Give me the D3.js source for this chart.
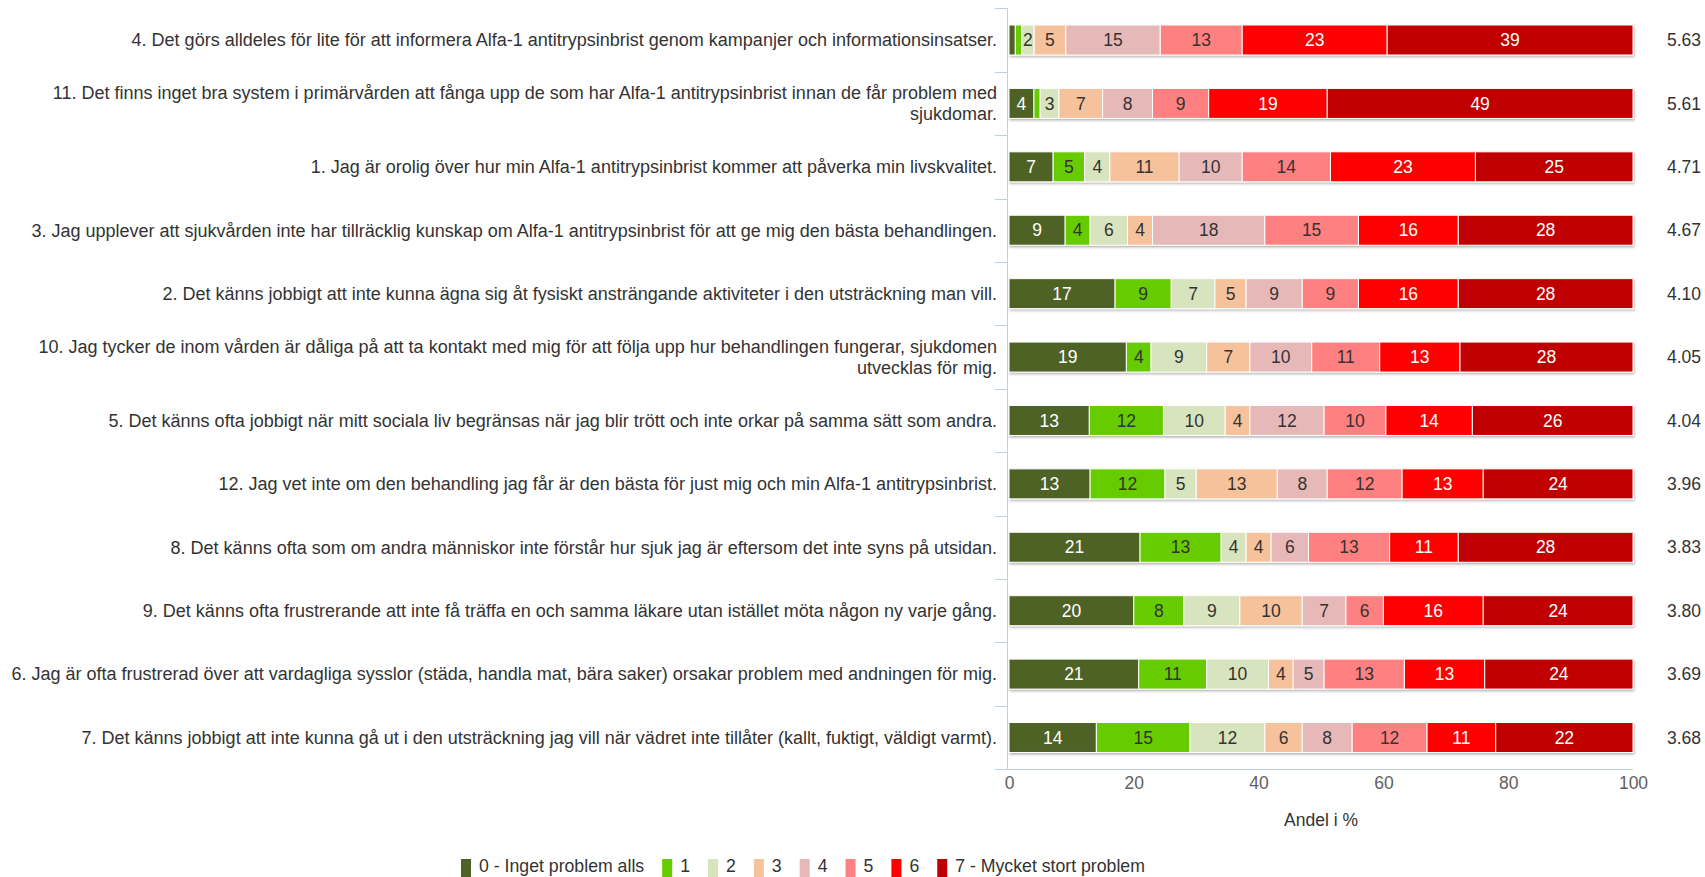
<!DOCTYPE html>
<html><head><meta charset="utf-8">
<script src="https://cdn.jsdelivr.net/npm/d3@7"></script>
<style>
body{margin:0;background:#fff;}
svg{display:block;font-family:"Liberation Sans",Arial,sans-serif;}
</style>
</head><body><svg id="c" width="1705" height="877"></svg>
<script>
const categories = [
 ["4. Det görs alldeles för lite för att informera Alfa-1 antitrypsinbrist genom kampanjer och informationsinsatser."],
 ["11. Det finns inget bra system i primärvården att fånga upp de som har Alfa-1 antitrypsinbrist innan de får problem med","sjukdomar."],
 ["1. Jag är orolig över hur min Alfa-1 antitrypsinbrist kommer att påverka min livskvalitet."],
 ["3. Jag upplever att sjukvården inte har tillräcklig kunskap om Alfa-1 antitrypsinbrist för att ge mig den bästa behandlingen."],
 ["2. Det känns jobbigt att inte kunna ägna sig åt fysiskt ansträngande aktiviteter i den utsträckning man vill."],
 ["10. Jag tycker de inom vården är dåliga på att ta kontakt med mig för att följa upp hur behandlingen fungerar, sjukdomen","utvecklas för mig."],
 ["5. Det känns ofta jobbigt när mitt sociala liv begränsas när jag blir trött och inte orkar på samma sätt som andra."],
 ["12. Jag vet inte om den behandling jag får är den bästa för just mig och min Alfa-1 antitrypsinbrist."],
 ["8. Det känns ofta som om andra människor inte förstår hur sjuk jag är eftersom det inte syns på utsidan."],
 ["9. Det känns ofta frustrerande att inte få träffa en och samma läkare utan istället möta någon ny varje gång."],
 ["6. Jag är ofta frustrerad över att vardagliga sysslor (städa, handla mat, bära saker) orsakar problem med andningen för mig."],
 ["7. Det känns jobbigt att inte kunna gå ut i den utsträckning jag vill när vädret inte tillåter (kallt, fuktigt, väldigt varmt)."]
];
const seriesNames = ["0 - Inget problem alls","1","2","3","4","5","6","7 - Mycket stort problem"];
const seriesColors = ["#4f6228","#66cc00","#d7e4bd","#f6c29b","#e6b9b8","#ff8080","#ff0000","#c00000"];
const s0 = [1,4,7,9,17,19,13,13,21,20,21,14];
const s1 = [1,1,5,4,9,4,12,12,13,8,11,15];
const s2 = [2,3,4,6,7,9,10,5,4,9,10,12];
const s3 = [5,7,11,4,5,7,4,13,4,10,4,6];
const s4 = [15,8,10,18,9,10,12,8,6,7,5,8];
const s5 = [13,9,14,15,9,11,10,12,13,6,13,12];
const s6 = [23,19,23,16,16,13,14,13,11,16,13,11];
const s7 = [39,49,25,28,28,28,26,24,28,24,24,22];
const means = ["5.63","5.61","4.71","4.67","4.10","4.05","4.04","3.96","3.83","3.80","3.69","3.68"];
const xTicks = [0,20,40,60,80,100];
const xTitle = "Andel i %";

const series = [s0,s1,s2,s3,s4,s5,s6,s7];
const lightText = [true,false,false,false,false,false,true,true];

const svg = d3.select("#c");
const defs = svg.append("defs");
const f = defs.append("filter").attr("id","sh").attr("x","-5%").attr("y","-30%").attr("width","110%").attr("height","180%");
f.append("feDropShadow").attr("dx",1).attr("dy",1.5).attr("stdDeviation",1.2).attr("flood-color","#000").attr("flood-opacity",0.3);

const x = d3.scaleLinear().domain([0,100]).range([1009,1633]);
const y = d3.scaleBand().domain(d3.range(categories.length)).range([8.3,769.2]).paddingInner(0.527).paddingOuter(0.2635);
const step = y.step();

// percent stacking
const rows = categories.map((c,i)=>{
  const vals = series.map(s=>s[i]);
  const tot = d3.sum(vals);
  let acc = 0;
  return vals.map((v,k)=>{const p0=acc/tot*100; acc+=v; return {k, v, p0, p1: acc/tot*100};});
});

const axisColor = "#c0d0e0";
// category axis
const gA = svg.append("g");
gA.append("line").attr("x1",1007.5).attr("x2",1007.5).attr("y1",y.range()[0]).attr("y2",y.range()[1]).attr("stroke",axisColor);
for (let i=0;i<=categories.length;i++){
  const yy = Math.round(y.range()[0] + i*step)+0.5;
  gA.append("line").attr("x1",995).attr("x2",1007.5).attr("y1",yy).attr("y2",yy).attr("stroke",axisColor);
}

// value axis
const xAxis = d3.axisBottom(x).tickValues(xTicks).tickSize(0).tickPadding(7);
const gx = svg.append("g").attr("transform","translate(0,769.5)").call(xAxis);
gx.select(".domain").attr("stroke",axisColor).attr("d",`M1007.5,0H1633`);
gx.selectAll("text").attr("font-size","17.5px").attr("fill","#606060").attr("font-family","Liberation Sans, Arial, sans-serif");

svg.append("text").attr("x",(x(0)+x(100))/2).attr("y",820).attr("dy","0.35em").attr("text-anchor","middle")
  .attr("font-size","17.5px").attr("fill","#333").text(xTitle);

// category labels
categories.forEach((lines,i)=>{
  const cy = y(i)+y.bandwidth()/2;
  const lh = 20.6;
  const t = svg.append("text").attr("text-anchor","end").attr("font-size","18px").attr("fill","#333");
  lines.forEach((ln,j)=>{
    t.append("tspan").attr("x",997).attr("y",cy + (j-(lines.length-1)/2)*lh).attr("dy","0.35em").text(ln);
  });
});

// bars
const gB = svg.append("g");
rows.forEach((segs,i)=>{
  const g = gB.append("g").attr("filter","url(#sh)");
  g.selectAll("rect").data(segs).join("rect")
    .attr("x",d=>x(d.p0)).attr("width",d=>Math.max(0,x(d.p1)-x(d.p0)))
    .attr("y",y(i)).attr("height",y.bandwidth())
    .attr("fill",d=>seriesColors[d.k]).attr("stroke","#fff").attr("stroke-width",1);
});
rows.forEach((segs,i)=>{
  const cy = y(i)+y.bandwidth()/2;
  segs.forEach(d=>{
    const w = x(d.p1)-x(d.p0);
    const t = svg.append("text").attr("x",(x(d.p0)+x(d.p1))/2).attr("y",cy).attr("dy","0.35em")
      .attr("text-anchor","middle").attr("font-size","17.5px")
      .attr("fill",lightText[d.k]?"#fff":"#333").text(d.v);
    if (t.node().getComputedTextLength()+1 > w) t.remove();
  });
});

// means
means.forEach((m,i)=>{
  svg.append("text").attr("x",1684).attr("y",y(i)+y.bandwidth()/2).attr("dy","0.35em")
    .attr("text-anchor","middle").attr("font-size","17.5px").attr("fill","#333").text(m);
});

// legend
let lx = 461;
const gL = svg.append("g");
seriesNames.forEach((n,k)=>{
  gL.append("rect").attr("x",lx).attr("y",859).attr("width",10).attr("height",18).attr("fill",seriesColors[k]);
  const t = gL.append("text").attr("x",lx+18).attr("y",871.5).attr("font-size","17.7px").attr("fill","#333").text(n);
  lx += 18 + t.node().getComputedTextLength() + 18;
});
</script>
</body></html>
